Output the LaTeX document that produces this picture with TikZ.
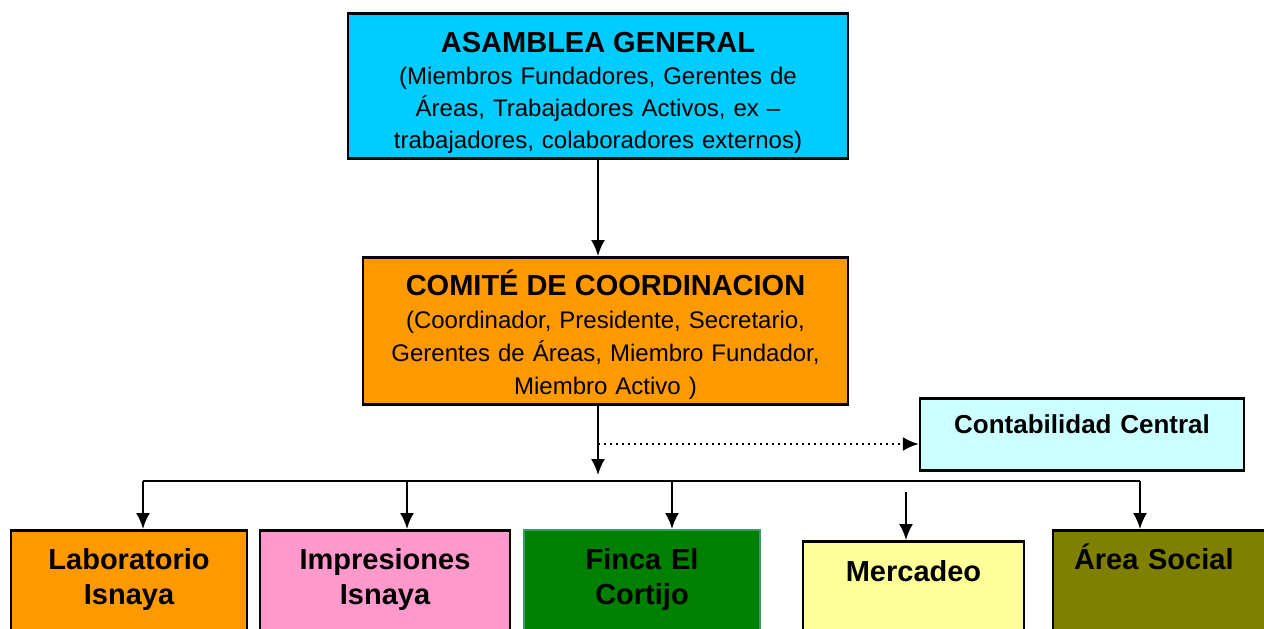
\documentclass[tikz,border=0pt]{standalone}
\usepackage{fontspec}
\setmainfont{Liberation Sans}
\usetikzlibrary{arrows.meta}
\definecolor{celeste}{HTML}{00CCFF}
\definecolor{naranja}{HTML}{FF9900}
\definecolor{celestepal}{HTML}{CCFFFF}
\definecolor{rosa}{HTML}{FF99CC}
\definecolor{verde}{HTML}{008000}
\definecolor{verdeborde}{HTML}{3A9A6A}
\definecolor{amarillo}{HTML}{FFFF99}
\definecolor{oliva}{HTML}{808000}
\tikzstyle{box} = [rectangle, draw, line width=1.25pt, inner sep=0pt, anchor=north, align=center]
\tikzstyle{unit} = [box, text height=19.5pt, text depth=70pt, font=\fontsize{14.5}{17.5}\selectfont\bfseries]
\tikzstyle{conn} = [draw, line width=1pt, ->]

\begin{document}
\begin{tikzpicture}[x=0.5pt,y=-0.5pt,>={Latex[length=8pt,width=7pt]}]
\useasboundingbox (0,0) rectangle (1264,628);
\clip (0,0) rectangle (1264,628);

\node[
  box,
  fill=celeste,
  text width=250pt,
  text height=19.5pt,
  text depth=53pt,
  font=\fontsize{12}{16}\selectfont
  ] (asamblea) at (598,12) {{\fontsize{14.5}{16}\selectfont\bfseries ASAMBLEA GENERAL}\\
  (Miembros Fundadores, Gerentes de\\ Áreas, Trabajadores Activos, ex –\\ trabajadores, colaboradores externos)};

\node[
  box,
  fill=naranja,
  text width=242.5pt,
  text height=19pt,
  text depth=54.5pt,
  font=\fontsize{12}{16.5}\selectfont
  ] (comite) at (605.5,256) {{\fontsize{14.5}{16}\selectfont\bfseries COMITÉ DE COORDINACION}\\
  (Coordinador, Presidente, Secretario,\\ Gerentes de Áreas, Miembro Fundador,\\ Miembro Activo )};

\node[
  box,
  fill=celestepal,
  text width=162pt,
  text height=17.5pt,
  text depth=18.5pt,
  font=\fontsize{13}{16}\selectfont\bfseries
  ] (contab) at (1082,397) {Contabilidad Central};

\node[unit, fill=naranja, text width=118pt] (lab) at (129,529) {Laboratorio\\ Isnaya};
\node[unit, fill=rosa, text width=125pt] (impr) at (385,529) {Impresiones\\ Isnaya};
\node[unit, fill=verde, draw=verdeborde, line width=1pt, text width=118pt] (finca) at (642,529) {Finca El\\ Cortijo};
\node[unit, fill=amarillo, text width=110.5pt, text height=20pt] (merc) at (913.5,540) {Mercadeo};
\node[unit, fill=oliva, text width=90pt, inner xsep=10.5pt, align=left] (social) at (1164,529) {Área Social};

\coordinate (split) at (598,475);
\coordinate (tap) at (598,444);
\coordinate (busL) at (143,481);
\coordinate (busR) at (1140,481);
\coordinate (dmerc) at (906,492);

\draw[conn] (asamblea.south) -- (asamblea.south |- comite.north);
\draw[conn] (comite.south -| split) -- (split);
\draw[conn, dotted] (tap) -- (tap -| contab.west);
\draw[line width=1pt] (busL) -- (busR);
\foreach \n/\x in {lab/143, impr/407, finca/672, social/1140}
  {\coordinate (d\n) at (\x,481);
   \draw[conn] (d\n) -- (d\n |- \n.north);}
\draw[conn] (dmerc) -- (dmerc |- merc.north);
\end{tikzpicture}
\end{document}
